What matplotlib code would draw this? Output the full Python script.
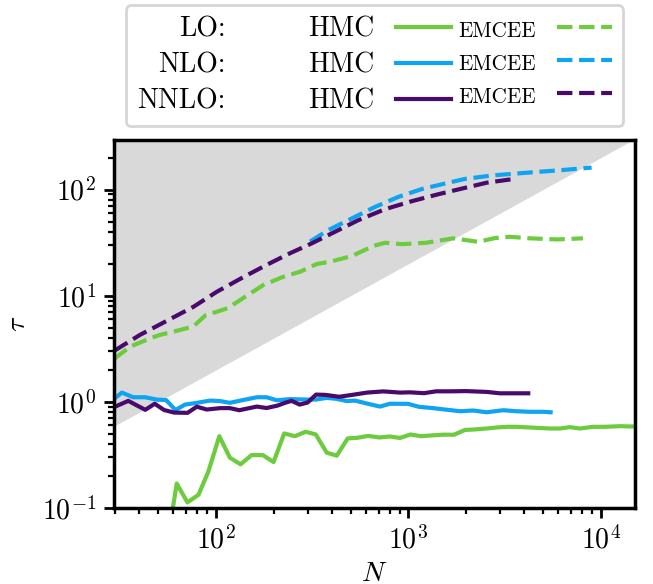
import numpy as np
import matplotlib
matplotlib.use('Agg')
import matplotlib.pyplot as plt
from matplotlib.lines import Line2D
from matplotlib.ticker import FuncFormatter, NullFormatter

## Data
# LO
lo_hmc_n = [55, 62.5, 71, 81, 91, 104, 118, 134, 153, 175, 199, 226, 257, 292, 330,
            376, 424, 483, 544, 618, 705, 801, 903, 1024, 1161, 1320, 1517, 1722, 1966,
            2215, 2546, 2884, 3250, 3707, 4230, 4823, 5433, 6123, 6901, 7780, 9080,
            10490, 12560, 14660]
lo_hmc_tau = [0.04, 0.17, 0.113, 0.133, 0.218, 0.475, 0.298, 0.258, 0.315, 0.315, 0.271,
              0.504, 0.475, 0.523, 0.493, 0.332, 0.311, 0.452, 0.459, 0.478, 0.462, 0.472,
              0.457, 0.493, 0.475, 0.483, 0.491, 0.490, 0.544, 0.550, 0.561, 0.574, 0.582,
              0.582, 0.574, 0.567, 0.561, 0.561, 0.578, 0.561, 0.582, 0.582, 0.590, 0.586]
lo_emcee_n = [29.6, 35.8, 45.4, 51.2, 62.5, 76.2, 88.7, 98.8, 115, 144, 176, 224, 273, 334,
              391, 507, 656, 755, 925, 1233, 1703, 2305, 2813, 3368, 4278, 5907, 8064]
lo_emcee_tau = [2.55, 3.31, 3.97, 4.28, 4.67, 5.13, 6.60, 6.97, 7.63, 9.96, 12.6, 15.1, 16.8,
                19.9, 20.9, 23.6, 29.4, 31.5, 30.6, 31.5, 34.7, 32.2, 34.9, 35.9, 34.7, 33.9, 34.7]

# NLO
nlo_hmc_n = [29.6, 32.4, 37.1, 42.8, 49.2, 55, 61.6, 69, 79.4, 93.1, 105, 118, 138, 163, 183,
             207, 242, 296, 330, 376, 424, 478, 527, 618, 711, 801, 994, 1134, 1325, 1547,
             1851, 2171, 2548, 3108, 3649, 4278, 5015, 5479]
nlo_hmc_tau = [1.074, 1.223, 1.105, 1.105, 1.051, 1.040, 0.838, 0.943, 0.979, 1.028, 1.017,
               0.979, 1.040, 1.105, 1.105, 1.035, 1.062, 1.051, 1.051, 1.090, 1.067, 1.017,
               1.028, 0.958, 0.903, 0.960, 0.958, 0.898, 0.875, 0.847, 0.816, 0.829, 0.798,
               0.834, 0.816, 0.806, 0.806, 0.798]
nlo_emcee_n = [308, 383, 507, 670, 885, 1171, 1488, 1966, 2757, 4111, 6124, 8946]
nlo_emcee_tau = [32.4, 41.5, 53.4, 68.6, 85.2, 101, 112, 126, 136, 144, 152, 161]

# NNLO
nnlo_hmc_n = [29.6, 35, 42.9, 48, 53.7, 60.5, 71.1, 79.4, 89.5, 105, 118, 132, 163, 183, 209,
              228, 247, 272, 299, 331, 371, 436, 509, 609, 740, 903, 1018, 1204, 1390, 1677,
              1990, 2548, 2988, 4191]
nnlo_hmc_tau = [0.894, 1.022, 0.841, 0.960, 0.838, 0.793, 0.788, 0.900, 0.847, 0.873, 0.873,
                0.834, 0.903, 0.875, 0.923, 0.979, 1.022, 0.943, 0.985, 1.171, 1.163, 1.117,
                1.163, 1.223, 1.255, 1.223, 1.230, 1.207, 1.257, 1.257, 1.263, 1.241, 1.204, 1.204]
nnlo_emcee_n = [29.6, 40.3, 55.5, 76.2, 101, 139, 183, 242, 314, 415, 549, 755, 1039, 1428,
                1890, 2548, 3437]
nnlo_emcee_tau = [3.03, 4.28, 5.80, 7.85, 10.9, 15.0, 19.5, 25.1, 31.1, 40.0, 51.5, 65.3, 77.6,
                  90.3, 102, 116, 125]

orders = ['LO:', 'NLO:', 'NNLO:']
colors = ['#6dcb3e', '#0ea4f2', '#4a0a6c']
n_ratio = 50          # shaded region: tau > N / 50
n_range = [29.5, 15030]
tau_range = [0.1, 293]

### Style
plt.rcParams['font.family'] = 'serif'
plt.rcParams['font.serif'] = ['cmr10']
plt.rcParams['mathtext.fontset'] = 'cm'
plt.rcParams['axes.unicode_minus'] = False
plt.rcParams['axes.linewidth'] = 1.25
plt.rcParams['font.size'] = 10

fig = plt.figure(figsize=(3.265, 2.92), dpi=200)
ax = fig.add_axes([0.1746, 0.1301, 0.7978, 0.6302])

# shaded region
n_edge = np.array(n_range)
ax.fill_between(n_edge, n_edge / n_ratio, 1e4, color='#d9d9d9', lw=0, zorder=0)

series = [(lo_hmc_n, lo_hmc_tau, lo_emcee_n, lo_emcee_tau),
          (nlo_hmc_n, nlo_hmc_tau, nlo_emcee_n, nlo_emcee_tau),
          (nnlo_hmc_n, nnlo_hmc_tau, nnlo_emcee_n, nnlo_emcee_tau)]
for (hn, ht, en, et), c in zip(series, colors):
    ax.plot(hn, ht, color=c, lw=1.5, ls='-')
    ax.plot(en, et, color=c, lw=1.5, ls='--')

ax.set_xscale('log')
ax.set_yscale('log')
ax.set_xlim(n_range)
ax.set_ylim(tau_range)

fmt = FuncFormatter(lambda v, pos: r'$10^{%d}$' % int(round(np.log10(v))))
for axis in (ax.xaxis, ax.yaxis):
    axis.set_major_formatter(fmt)
    axis.set_minor_formatter(NullFormatter())
ax.tick_params(which='both', direction='out', top=False, right=False)
ax.tick_params(which='major', length=3.5, width=1.0, labelsize=10, pad=3)
ax.tick_params(which='minor', length=2.0, width=0.8)

ax.set_xlabel(r'$N$', fontsize=10, labelpad=2)
ax.set_ylabel(r'$\tau$', fontsize=10)

# legend: "LO:  HMC ---  EMCEE - - -"
blank = Line2D([], [], color='none')
handles = [blank] * 3
handles += [Line2D([], [], color=c, lw=1.5) for c in colors]
handles += [Line2D([], [], color=c, lw=1.5, ls='--') for c in colors]
labels = orders + ['HMC'] * 3 + ['EMCEE'] * 3
leg = ax.legend(handles, labels, ncol=3, markerfirst=False, loc='lower center',
                bbox_to_anchor=(0.5, 1.0), columnspacing=0.25, handlelength=2.0,
                handletextpad=0.75, labelspacing=0.35, borderaxespad=0.5, fontsize=10)
for t in leg.get_texts():
    if t.get_text() == 'EMCEE':
        t.set_fontsize(7.6)

fig.savefig('out.png', dpi=200)
